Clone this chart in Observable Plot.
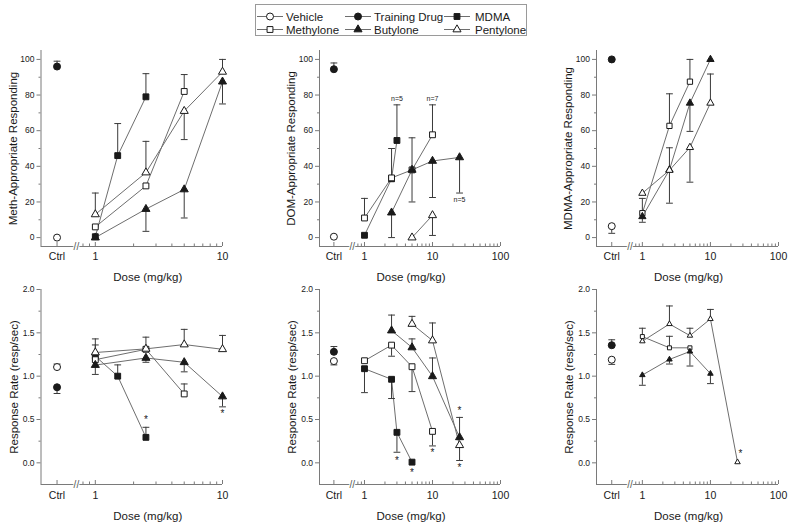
<!DOCTYPE html>
<html><head><meta charset="utf-8">
<script src="https://cdn.jsdelivr.net/npm/d3@7"></script>
<script src="https://cdn.jsdelivr.net/npm/@observablehq/plot@0.6"></script>
<style>
body{margin:0;background:#fff;}
#fig{position:relative;width:800px;height:529px;overflow:hidden;font-family:"Liberation Sans",Arial,sans-serif;background:#fff;}
</style></head><body><div id="fig"></div>
<script>
// ---------------- data ----------------
const seriesNames = ["Vehicle","Training Drug","MDMA","Methylone","Butylone","Pentylone"];
const seriesSymbol = ["circle","circle","square","square","triangle","triangle"];
const seriesFilled = [false,true,true,false,true,false];

// rows: [series, dose (mg/kg or "Ctrl"), mean, error-bar end (null = none)]
const methDisc = [
  ["Vehicle","Ctrl",0,null],
  ["Training Drug","Ctrl",96,99],
  ["MDMA",1,0.5,null],["MDMA",1.5,46,64],["MDMA",2.5,79,92],
  ["Methylone",1,6,null],["Methylone",2.5,29,null],["Methylone",5,82,91.5],
  ["Butylone",1,0,null],["Butylone",2.5,16,3.5],["Butylone",5,27,11],["Butylone",10,87.5,75],
  ["Pentylone",1,13,25],["Pentylone",2.5,36.5,54],["Pentylone",5,71,55],["Pentylone",10,93,100]
];
const domDisc = [
  ["Vehicle","Ctrl",0.5,null],
  ["Training Drug","Ctrl",94.5,98],
  ["MDMA",1,1.3,null],["MDMA",2.5,33,null],["MDMA",3,54.5,74.5],
  ["Methylone",1,11,22],["Methylone",2.5,33.5,50],["Methylone",5,38,56],["Methylone",10,57.7,74.5],
  ["Butylone",2.5,14,0],["Butylone",5,38,20],["Butylone",10,43,22.5],["Butylone",25,45,25],
  ["Pentylone",5,0,null],["Pentylone",10,12.5,1.2]
];
const mdmaDisc = [
  ["Vehicle","Ctrl",6.4,2.4],
  ["Training Drug","Ctrl",100,null],
  ["Methylone",1,13.7,22],["Methylone",2.5,62.7,80.7],["Methylone",5,87.5,100],
  ["Butylone",1,11.8,8.6],["Butylone",2.5,38,50.4],["Butylone",5,75.5,59.6],["Butylone",10,100,null],
  ["Pentylone",1,24.9,null],["Pentylone",2.5,37.8,19.3],["Pentylone",5,50.6,31.1],["Pentylone",10,75.5,91.8]
];
const methRate = [
  ["Vehicle","Ctrl",1.105,1.14],
  ["Training Drug","Ctrl",0.872,0.80],
  ["MDMA",1,1.23,1.36],["MDMA",1.5,1.0,1.13],["MDMA",2.5,0.294,0.41],
  ["Methylone",1,1.19,null],["Methylone",2.5,1.31,null],["Methylone",5,0.795,0.91],
  ["Butylone",1,1.128,1.02],["Butylone",2.5,1.21,1.16],["Butylone",5,1.16,1.05],["Butylone",10,0.765,0.646],
  ["Pentylone",1,1.273,1.43],["Pentylone",2.5,1.315,1.45],["Pentylone",5,1.365,1.54],["Pentylone",10,1.31,1.47]
];
const domRate = [
  ["Vehicle","Ctrl",1.174,1.13],
  ["Training Drug","Ctrl",1.281,1.342],
  ["MDMA",1,1.086,0.81],["MDMA",2.5,0.964,0.742],["MDMA",3,0.352,0.122],["MDMA",5,0.008,null],
  ["Methylone",1,1.178,null],["Methylone",2.5,1.358,1.23],["Methylone",5,1.109,0.822],["Methylone",10,0.363,0.195],
  ["Butylone",2.5,1.526,1.705],["Butylone",5,1.331,1.43],["Butylone",10,0.998,1.21],["Butylone",25,0.294,0.524],
  ["Pentylone",5,1.602,1.69],["Pentylone",10,1.411,1.614],["Pentylone",25,0.203,0.027]
];
const mdmaRate = [
  ["Vehicle","Ctrl",1.19,1.136],
  ["Training Drug","Ctrl",1.357,1.42],
  ["Methylone",1,1.457,1.553],["Methylone",2.5,1.327,1.46],["Methylone",5,1.327,null],
  ["Butylone",1,1.013,0.895],["Butylone",2.5,1.193,1.14],["Butylone",5,1.285,1.117],["Butylone",10,1.029,0.914],
  ["Pentylone",1,1.403,null],["Pentylone",2.5,1.602,1.81],["Pentylone",5,1.468,1.553],["Pentylone",10,1.66,1.77],["Pentylone",25,0.008,null]
];
// annotations: [dose, value, text]
const domDiscNotes = [[3,78,"n=5"],[10,78,"n=7"],[25,21.5,"n=5"]];
const methRateNotes = [[2.5,0.53,"*"],[10,0.6,"*"]];
const domRateNotes = [[3,0.06,"*"],[5,-0.08,"*"],[10,0.15,"*"],[25,0.63,"*"],[25,-0.02,"*"]];
const mdmaRateNotes = [[25,0.14,"*"]];

const discTicks = [0,20,40,60,80,100];
const discMinor = [10,30,50,70,90];
const rateTicks = [0,0.5,1,1.5,2];
const rateMinor = [0.25,0.75,1.25,1.75];
const yLabels = ["Meth-Appropriate Responding","DOM-Appropriate Responding","MDMA-Appropriate Responding","Response Rate (resp/sec)"];
const xLabel = "Dose (mg/kg)";

// ---------------- style ----------------
const INK = "#1a1a1a", AX = "#7a7a7a", LINE = "#6e6e6e", ERR = "#3a3a3a";
const FONT = "'Liberation Sans', Arial, sans-serif";
const capSymbol = {draw(ctx, size){ const w = Math.sqrt(size/Math.PI); ctx.moveTo(-w,0); ctx.lineTo(w,0); }};
const baseR = {circle: 3.5, square: 3.3, triangle: 3.0};

const fig = document.getElementById("fig");

function buildPanel(cfg){
  const rows = cfg.rows.map(([s,d,v,e]) => ({s, x: d === "Ctrl" ? cfg.ctrl : d, v, e, isCtrl: d === "Ctrl"}));
  const [y0, y1] = cfg.yDomain;
  const upx = (y1 - y0) / (cfg.height - cfg.mT - cfg.mB);
  const xMajor = [cfg.ctrl, ...cfg.xTicks];
  const xMinor = [];
  for (const dec of [0.1, 1, 10]) for (let k = 2; k <= 9; k++) { const t = k*dec; if (t > cfg.brk + 0.05 && t < cfg.hi) xMinor.push(t); }
  const curves = rows.filter(d => !d.isCtrl);
  const errs = rows.filter(d => d.e != null);
  const marks = [
    Plot.ruleY([y0], {stroke: AX}),
    Plot.ruleX([cfg.lo], {stroke: AX}),
    Plot.ruleX(xMajor, {x: d => d, y1: () => y0, y2: () => y0 + 4*upx, stroke: AX}),
    Plot.ruleX(xMinor, {x: d => d, y1: () => y0, y2: () => y0 + 2.5*upx, stroke: AX}),
    Plot.text([cfg.brk], {x: d => d, y: () => y0, text: () => "//", fontSize: 10, fill: "#555", stroke: "white", strokeWidth: 2, paintOrder: "stroke"}),
    Plot.text(xMajor, {x: d => d, y: () => y0, text: d => d === cfg.ctrl ? "Ctrl" : String(d), dy: cfg.xTickDy, fontSize: 10.5, fill: INK}),
    Plot.axisY({ticks: cfg.yTicks, tickSize: 4, tickPadding: 2.5, tickFormat: cfg.yFmt, fontSize: 8.5, stroke: AX, fill: INK, label: null}),
    Plot.axisY({ticks: cfg.yMinor, tickSize: 2, tickFormat: () => "", stroke: AX, label: null}),
    Plot.text([cfg.ylabel], {frameAnchor: "left", textAnchor: "middle", lineAnchor: "middle", rotate: -90, dx: cfg.yLabDx, text: d => d, fontSize: 11.5, fill: INK}),
    Plot.text([xLabel], {frameAnchor: "bottom", textAnchor: "middle", lineAnchor: "middle", dy: cfg.xLabDy, dx: cfg.xLabDx, text: d => d, fontSize: 11.5, fill: INK}),
    Plot.line(curves, {x: "x", y: "v", z: "s", stroke: LINE, strokeWidth: 1}),
    Plot.ruleX(errs, {x: "x", y1: "v", y2: "e", stroke: ERR, strokeWidth: 1}),
    Plot.dot(errs, {x: "x", y: "e", symbol: capSymbol, r: 3.4, stroke: ERR, fill: "none", strokeWidth: 1})
  ];
  seriesNames.forEach((s, i) => {
    const sym = seriesSymbol[i];
    const pts = rows.filter(d => d.s === s);
    const sc = sym === "circle" ? 1 : cfg.symScale;
    marks.push(Plot.dot(pts, {x: "x", y: "v", symbol: sym, r: baseR[sym]*sc, fill: seriesFilled[i] ? INK : "white", stroke: INK, strokeWidth: 1}));
  });
  if (cfg.notes) {
    const stars = cfg.notes.filter(d => d[2] === "*");
    const ns = cfg.notes.filter(d => d[2] !== "*");
    marks.push(Plot.text(stars, {x: d => d[0], y: d => d[1], text: d => d[2], fontSize: 10, dy: 3, dx: cfg.starDx || 0, fill: INK}));
    marks.push(Plot.text(ns, {x: d => d[0], y: d => d[1], text: d => d[2], fontSize: 7, fill: INK}));
  }
  const svg = Plot.plot({
    width: cfg.width, height: cfg.height,
    marginLeft: cfg.mL, marginRight: cfg.mR, marginTop: cfg.mT, marginBottom: cfg.mB,
    x: {type: "log", domain: [cfg.lo, cfg.hi], axis: null},
    y: {domain: cfg.yDomain, axis: null},
    style: {background: "transparent", overflow: "visible", fontFamily: FONT, fontSize: "8.5px", color: INK},
    marks
  });
  svg.style.position = "absolute";
  svg.style.left = cfg.left + "px";
  svg.style.top = cfg.top + "px";
  svg.style.maxWidth = "none";
  fig.appendChild(svg);
}

const cols = [
  {left: 0, width: 260, mL: 40.5, mR: 38, lo: 0.374, hi: 10, ctrl: 0.5, brk: 0.71, xTicks: [1,10], xLabDx: 16, symScale: 1},
  {left: 270, width: 260, mL: 49, mR: 30, lo: 0.218, hi: 100, ctrl: 0.355, brk: 0.66, xTicks: [1,10,100], xLabDx: 1, symScale: 1},
  {left: 540, width: 260, mL: 56, mR: 22, lo: 0.212, hi: 100, ctrl: 0.355, brk: 0.66, xTicks: [1,10,100], xLabDx: 1, symScale: 0.9}
];
const topRow = {top: 40, height: 250, mT: 10, mB: 44, yDomain: [-5,105], yTicks: discTicks, yMinor: discMinor, yFmt: d => String(d), yLabDx: -28, xTickDy: 10, xLabDy: 31};
const botRow = {top: 280, height: 249, mT: 9, mB: 45, yDomain: [-0.25,2], yTicks: rateTicks, yMinor: rateMinor, yFmt: d => d.toFixed(1), yLabDx: -27, xTickDy: 11.5, xLabDy: 32};

const discData = [methDisc, domDisc, mdmaDisc];
const rateData = [methRate, domRate, mdmaRate];
const discNotes = [null, domDiscNotes, null];
const rateNotes = [methRateNotes, domRateNotes, mdmaRateNotes];

cols.forEach((c, i) => {
  buildPanel({...c, ...topRow, rows: discData[i], notes: discNotes[i], ylabel: yLabels[i]});
  buildPanel({...c, ...botRow, rows: rateData[i], notes: rateNotes[i], ylabel: yLabels[3], symScale: i === 2 ? 0.68 : 1, starDx: i === 2 ? 3 : 0});
});

// ---------------- legend ----------------
const leg = d3.select(fig).append("svg").attr("width", 800).attr("height", 42)
  .style("position","absolute").style("left","0px").style("top","0px");
leg.append("rect").attr("x",255.5).attr("y",4.5).attr("width",271).attr("height",31)
  .attr("fill","white").attr("stroke","#9a9a9a");
const colX = [270, 358, 457], textX = [286, 374, 475], rowY = [16.5, 29.5];
const d3sym = {circle: d3.symbolCircle, square: d3.symbolSquare, triangle: d3.symbolTriangle};
seriesNames.forEach((s, i) => {
  const c = i % 3, r = Math.floor(i / 3);
  const g = leg.append("g");
  g.append("line").attr("x1", colX[c]-13).attr("x2", colX[c]+13).attr("y1", rowY[r]).attr("y2", rowY[r]).attr("stroke", LINE);
  const sym = seriesSymbol[i];
  g.append("path").attr("transform", `translate(${colX[c]},${rowY[r]})`)
    .attr("d", d3.symbol().type(d3sym[sym]).size(Math.PI*baseR[sym]*baseR[sym])())
    .attr("fill", seriesFilled[i] ? INK : "white").attr("stroke", INK);
  g.append("text").attr("x", textX[c]).attr("y", rowY[r]).attr("dy","0.35em")
    .attr("font-family", FONT).attr("font-size", 11.5).attr("fill", INK).text(s);
});
</script></body></html>
